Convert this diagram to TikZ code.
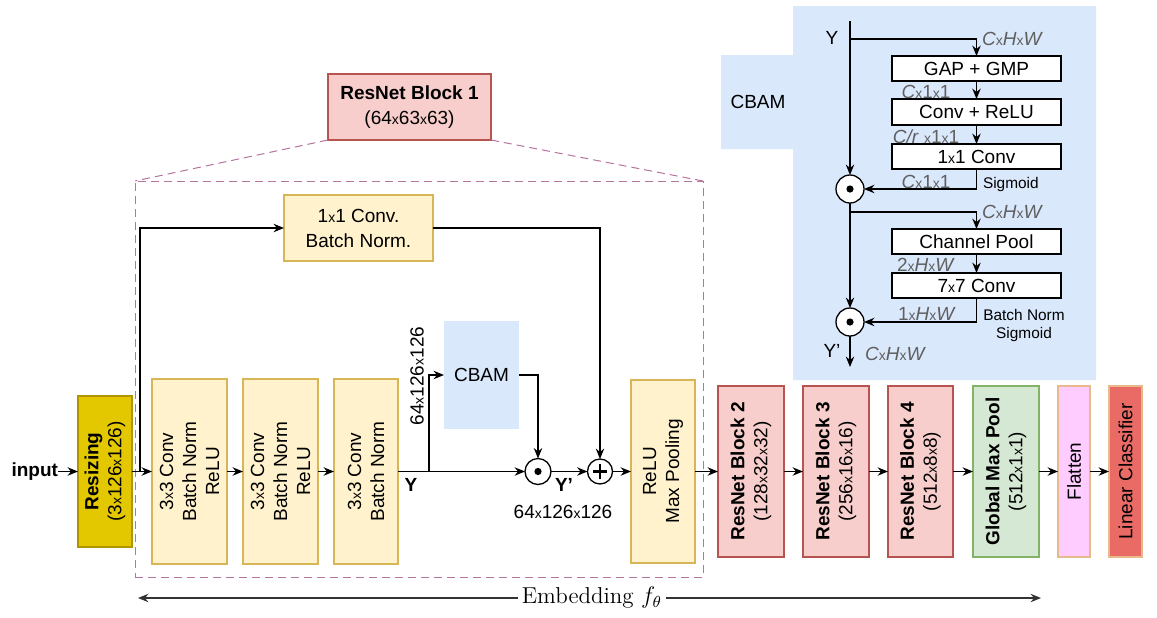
\documentclass[tikz,border=0pt]{standalone}
\usepackage{fontspec}
\setsansfont{Liberation Sans}
\usetikzlibrary{arrows.meta}
\definecolor{rszfill}{HTML}{E3C800}
\definecolor{rszline}{HTML}{B09500}
\definecolor{yfill}{HTML}{FFF2CC}
\definecolor{yline}{HTML}{D6B656}
\definecolor{rfill}{HTML}{F8CECC}
\definecolor{rline}{HTML}{B85450}
\definecolor{gfill}{HTML}{D5E8D4}
\definecolor{gline}{HTML}{82B366}
\definecolor{cbamc}{HTML}{DAE8FC}
\definecolor{dashc}{HTML}{B5739D}
\definecolor{flfill}{HTML}{FFCCFF}
\definecolor{lcfill}{HTML}{EA6B66}
\definecolor{oline}{HTML}{E8B98A}
\definecolor{graytxt}{HTML}{5F5F5F}
\newcommand{\X}{{\fontsize{7}{7}\selectfont x}}
\newcommand{\bx}[7]{\node[#6, minimum width={(#4-#2)*0.5pt}, minimum height={(#5-#3)*0.5pt}] (#1) at ({(#2+#4)/2},{(#3+#5)/2}) {#7};}
\begin{document}
\begin{tikzpicture}[x=0.5pt,y=-0.5pt,
  every node/.style={font=\sffamily\fontsize{9.5}{11.5}\selectfont, inner sep=0pt, outer sep=0pt},
  arr/.style={-{Stealth[length=5.2pt,width=4.2pt]}, line width=0.65pt},
  resizebox/.style={draw=rszline, fill=rszfill, line width=0.6pt},
  ybox/.style={draw=yline, fill=yfill, line width=0.6pt},
  rbox/.style={draw=rline, fill=rfill, line width=0.6pt},
  gbox/.style={draw=gline, fill=gfill, line width=0.6pt},
  flbox/.style={draw=oline, fill=flfill, line width=0.6pt},
  lcbox/.style={draw=oline, fill=lcfill, line width=0.6pt},
  cbox/.style={fill=cbamc},
  wbox/.style={draw=black, fill=white, line width=0.6pt},
  dashbox/.style={draw=dashc, dash pattern=on 4pt off 2.5pt, line width=0.5pt},
  circ/.style={circle, draw=black, fill=white, line width=0.65pt},
  vtext/.style={rotate=90, align=center},
  glab/.style={text=graytxt},
  small/.style={font=\sffamily\fontsize{7.7}{9}\selectfont, align=center}
]
\useasboundingbox (0,0) rectangle (1157,617);

% CBAM background
\fill[cbamc] (721,55) -- (793,55) -- (793,6) -- (1096,6) -- (1096,380) -- (793,380) -- (793,149) -- (721,149) -- cycle;
\node (cbamtitle) at (758,102) {CBAM};

% dashed detail frame
\bx{rbd}{135}{181}{703}{577}{dashbox}{}
\bx{rb1}{328}{74}{491}{140}{rbox}{}
\node[align=center] (rb1t) at (rb1) {\bfseries ResNet Block 1\\[1pt](64\X63\X63)};
\draw[dashbox] (rb1.south west) -- (rbd.north west);
\draw[dashbox] (rb1.south east) -- (rbd.north east);

% main boxes
\node[anchor=east] (inp) at (58,471.5) {\bfseries input};
\bx{rsz}{78}{396}{132}{547}{resizebox}{}
\node[vtext] (rszt) at (rsz) {\bfseries Resizing\\(3\X126\X126)};
\bx{c1}{152}{379}{227}{564}{ybox}{}
\node[vtext] (c1t) at (c1) {3\X3 Conv\\Batch Norm\\ReLU};
\bx{c2}{243}{379}{318}{564}{ybox}{}
\node[vtext] (c2t) at (c2) {3\X3 Conv\\Batch Norm\\ReLU};
\bx{c3}{334}{379}{398}{564}{ybox}{}
\node[vtext] (c3t) at (c3) {3\X3 Conv\\Batch Norm};
\bx{cbs}{444}{321}{519}{429}{cbox}{CBAM}
\bx{onec}{284}{195}{433}{261}{ybox}{}
\node[align=center] (onect) at (onec) {1\X1 Conv.\\[1pt]Batch Norm.};
\bx{mp}{631}{380}{695}{563}{ybox}{}
\node[vtext] (mpt) at (mp) {ReLU\\Max Pooling};
\bx{rb2}{718}{386}{784}{557}{rbox}{}
\node[vtext] (rb2t) at (rb2) {\bfseries ResNet Block 2\\(128\X32\X32)};
\bx{rb3}{803}{386}{869}{557}{rbox}{}
\node[vtext] (rb3t) at (rb3) {\bfseries ResNet Block 3\\(256\X16\X16)};
\bx{rb4}{888}{386}{953}{557}{rbox}{}
\node[vtext] (rb4t) at (rb4) {\bfseries ResNet Block 4\\(512\X8\X8)};
\bx{gmp}{973}{386}{1039}{557}{gbox}{}
\node[vtext] (gmpt) at (gmp) {\bfseries Global Max Pool\\(512\X1\X1)};
\bx{fl}{1058}{386}{1090}{557}{flbox}{}
\node[vtext] (flt) at (fl) {Flatten};
\bx{lc}{1109}{386}{1142}{557}{lcbox}{}
\node[vtext] (lct) at (lc) {Linear Classifier};

% operators
\node[circ, minimum size=13pt] (od) at (538,471.5) {};
\fill (od.center) circle (1.8pt);
\node[circ, minimum size=12.5pt] (pl) at (600,471.5) {};
\draw[line width=1.1pt] ([xshift=-3.6pt]pl.center) -- ([xshift=3.6pt]pl.center);
\draw[line width=1.1pt] ([yshift=-3.6pt]pl.center) -- ([yshift=3.6pt]pl.center);

% connectors main
\draw[arr] (inp) -- (rsz);
\draw[arr] (rsz) -- (c1);
\draw[arr] (c1) -- (c2);
\draw[arr] (c2) -- (c3);
\draw[arr] (c3) -- (od);
\coordinate (b1) at (140,471.5);
\draw[arr] (b1) |- (onec.west);
\draw[arr] (onec.east) -| (pl.north);
\coordinate (b2) at (429,471.5);
\draw[arr] (b2) |- (cbs.west);
\draw[arr] (cbs.east) -| (od.north);
\draw[arr] (od) -- (pl);
\draw[arr] (pl) -- (mp);
\draw[arr] (mp) -- (rb2);
\draw[arr] (rb2) -- (rb3);
\draw[arr] (rb3) -- (rb4);
\draw[arr] (rb4) -- (gmp);
\draw[arr] (gmp) -- (fl);
\draw[arr] (fl) -- (lc);

\node[font=\sffamily\bfseries\fontsize{9.5}{11.5}\selectfont] (ylab) at (411,485) {Y};
\node[font=\sffamily\bfseries\fontsize{9.5}{11.5}\selectfont] (yplab) at (564,485) {Y'};
\node (dimA) at (563,512) {64\X126\X126};
\node[rotate=90] (dimB) at (417,376) {64\X126\X126};

% CBAM detail
\bx{gap}{892}{56}{1061}{81}{wbox}{GAP + GMP}
\bx{cr}{892}{99}{1061}{125}{wbox}{Conv + ReLU}
\bx{oc}{892}{144}{1061}{169}{wbox}{1\X1 Conv}
\bx{cp}{892}{229}{1061}{254}{wbox}{Channel Pool}
\bx{sc}{892}{273}{1061}{298}{wbox}{7\X7 Conv}
\node[circ, minimum size=14pt] (ca1) at (850,189) {};
\fill (ca1.center) circle (1.8pt);
\node[circ, minimum size=14pt] (ca2) at (850,322) {};
\fill (ca2.center) circle (1.8pt);
\coordinate (ytop) at (850,21);
\coordinate (yend) at (850,367);
\coordinate (bA) at (850,39);
\coordinate (bB) at (850,212);
\draw[arr] (ytop) -- (ca1);
\draw[arr] (ca1) -- (ca2);
\draw[arr] (ca2) -- (yend);
\draw[arr] (bA) -| (gap.north);
\draw[arr] (gap) -- (cr);
\draw[arr] (cr) -- (oc);
\draw[arr] (oc.south) |- (ca1.east);
\draw[arr] (bB) -| (cp.north);
\draw[arr] (cp) -- (sc);
\draw[arr] (sc.south) |- (ca2.east);

\node (cy) at (832,38) {Y};
\node (cyp) at (832,351) {Y'};
\node[glab, anchor=west] (g1) at (982,39) {\textit{C}\X\textit{H}\X\textit{W}};
\node[glab] (g2) at (926,92) {\textit{C}\X1\X1};
\node[glab] (g3) at (926,137) {\textit{C/r} \X1\X1};
\node[glab] (g4) at (926,182) {\textit{C}\X1\X1};
\node[glab, anchor=west] (g5) at (982,212) {\textit{C}\X\textit{H}\X\textit{W}};
\node[glab] (g6) at (926,265) {2\X\textit{H}\X\textit{W}};
\node[glab] (g7) at (927,314) {1\X\textit{H}\X\textit{W}};
\node[glab, anchor=west] (g8) at (865,354) {\textit{C}\X\textit{H}\X\textit{W}};
\node[small, anchor=west] (sg1) at (983,185) {Sigmoid};
\node[small] (sg2) at (1024,326) {Batch Norm\\Sigmoid};

% embedding arrow
\node[font=\rmfamily\fontsize{11.5}{13}\selectfont, inner xsep=2pt] (emb) at (592,598) {Embedding $f_\theta$};
\coordinate (el) at (138,598);
\coordinate (er) at (1041,598);
\draw[arr, draw=black!80] (emb.west) -- (el);
\draw[arr, draw=black!80] (emb.east) -- (er);
\end{tikzpicture}
\end{document}
